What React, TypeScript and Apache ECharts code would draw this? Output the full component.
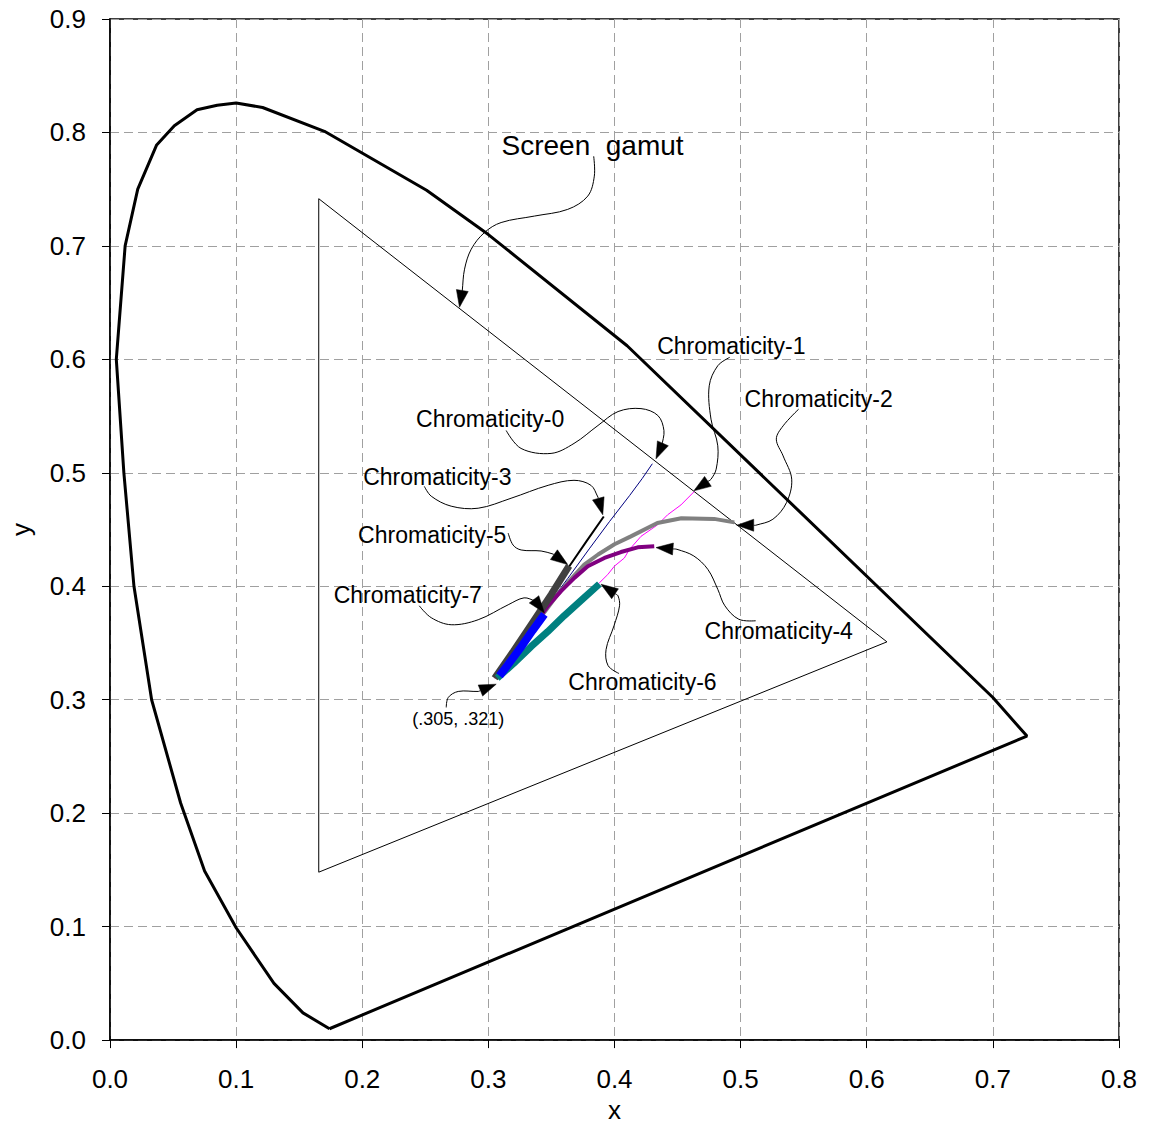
import React, { useEffect, useRef } from "react";
import * as echarts from "echarts";

// ---- Data ----
const xTicks = [0, 0.1, 0.2, 0.3, 0.4, 0.5, 0.6, 0.7, 0.8];
const yTicks = [0, 0.1, 0.2, 0.3, 0.4, 0.5, 0.6, 0.7, 0.8, 0.9];

const spectralLocus: [number, number][] = [
  [0.174, 0.010], [0.153, 0.024], [0.130, 0.050], [0.100, 0.099], [0.075, 0.149],
  [0.056, 0.209], [0.033, 0.300], [0.019, 0.400], [0.011, 0.500], [0.005, 0.600],
  [0.012, 0.700], [0.022, 0.750], [0.037, 0.789], [0.051, 0.806], [0.069, 0.820],
  [0.085, 0.824], [0.100, 0.826], [0.121, 0.822], [0.170, 0.801], [0.251, 0.749],
  [0.300, 0.710], [0.410, 0.612], [0.700, 0.302], [0.727, 0.268], [0.174, 0.010],
];

const screenGamut: [number, number][] = [
  [0.1655, 0.7416], [0.616, 0.351], [0.1655, 0.148], [0.1655, 0.7416],
];

const chroma0: [number, number][] = [
  [0.306, 0.322], [0.335, 0.365], [0.363, 0.407], [0.380, 0.433], [0.396, 0.457],
  [0.412, 0.480], [0.422, 0.495], [0.430, 0.508],
];
const chroma1: [number, number][] = [
  [0.305, 0.319], [0.347, 0.360], [0.388, 0.403], [0.3946, 0.4103], [0.3999, 0.4177],
  [0.4078, 0.4249], [0.4117, 0.4322], [0.421, 0.444], [0.4342, 0.4542], [0.4421, 0.463],
  [0.4527, 0.4717], [0.4632, 0.4835],
];
const chroma2: [number, number][] = [
  [0.306, 0.320], [0.320, 0.341], [0.334, 0.362], [0.345, 0.378], [0.355, 0.393],
  [0.366, 0.407], [0.376, 0.419], [0.387, 0.428], [0.400, 0.437], [0.413, 0.444],
  [0.434, 0.4557], [0.453, 0.460], [0.479, 0.4594], [0.495, 0.4563],
];
const chroma3: [number, number][] = [
  [0.306, 0.323], [0.335, 0.370], [0.3642, 0.4177], [0.378, 0.440], [0.3915, 0.4615],
];
const chroma4: [number, number][] = [
  [0.307, 0.320], [0.320, 0.339], [0.334, 0.362], [0.347, 0.3825], [0.3576, 0.3957],
  [0.3682, 0.4074], [0.3788, 0.4176], [0.392, 0.425], [0.4051, 0.4302], [0.4184, 0.4343],
  [0.4315, 0.4352],
];
const chroma5: [number, number][] = [
  [0.305, 0.319], [0.320, 0.343], [0.335, 0.368], [0.350, 0.393], [0.364, 0.418],
];
const chroma6: [number, number][] = [
  [0.307, 0.319], [0.320, 0.332], [0.334, 0.347], [0.347, 0.360], [0.360, 0.374],
  [0.374, 0.388], [0.388, 0.402],
];
const chroma7: [number, number][] = [
  [0.3088, 0.3211], [0.315, 0.330], [0.325, 0.345], [0.335, 0.361], [0.3444, 0.3752],
];

const seriesNames = [
  "Chromaticity-0", "Chromaticity-1", "Chromaticity-2", "Chromaticity-3",
  "Chromaticity-4", "Chromaticity-5", "Chromaticity-6", "Chromaticity-7",
];
const seriesData = [chroma0, chroma1, chroma2, chroma3, chroma4, chroma5, chroma6, chroma7];
const seriesColors = ["#000080", "#FF00FF", "#808080", "#000000", "#800080", "#404040", "#008080", "#0000FF"];
const seriesWidths = [1, 1, 4, 2, 4, 7, 7, 8];

// Annotations (data coordinates): label, label centre, leader curve, arrow tip
type Ann = { text: string; at: [number, number]; size: number; path: [number, number][]; tip: [number, number] };
const annotations: Ann[] = [
  {
    text: "Screen  gamut", at: [0.3826, 0.7884], size: 28,
    path: [[0.3835, 0.7790], [0.3840, 0.7615], [0.3788, 0.7439], [0.3629, 0.7322], [0.3365, 0.7263],
      [0.3101, 0.7206], [0.2969, 0.7118], [0.2864, 0.6971], [0.2811, 0.6795], [0.2793, 0.6605]],
    tip: [0.2771, 0.6459],
  },
  {
    text: "Chromaticity-0", at: [0.3014, 0.5470], size: 23,
    path: [[0.3141, 0.5373], [0.3259, 0.5215], [0.3497, 0.5171], [0.3679, 0.5259], [0.3869, 0.5417],
      [0.4028, 0.5540], [0.4210, 0.5566], [0.4344, 0.5505], [0.4392, 0.5373], [0.4376, 0.5241]],
    tip: [0.4329, 0.5123],
  },
  {
    text: "Chromaticity-1", at: [0.4926, 0.6119], size: 23,
    path: [[0.4914, 0.6018], [0.4819, 0.5944], [0.4751, 0.5767], [0.4765, 0.5473], [0.4819, 0.5238],
      [0.4806, 0.5032], [0.4765, 0.4943]],
    tip: [0.4629, 0.4841],
  },
  {
    text: "Chromaticity-2", at: [0.5619, 0.5650], size: 23,
    path: [[0.5460, 0.5561], [0.5337, 0.5414], [0.5283, 0.5297], [0.5337, 0.5149], [0.5405, 0.4944],
      [0.5364, 0.4738], [0.5256, 0.4591], [0.5120, 0.4538]],
    tip: [0.4969, 0.4538],
  },
  {
    text: "Chromaticity-3", at: [0.2595, 0.4961], size: 23,
    path: [[0.2492, 0.4881], [0.2547, 0.4794], [0.2705, 0.4706], [0.2919, 0.4688], [0.3180, 0.4776],
      [0.3474, 0.4890], [0.3679, 0.4934], [0.3813, 0.4890], [0.3869, 0.4785]],
    tip: [0.3907, 0.4630],
  },
  {
    text: "Chromaticity-4", at: [0.5302, 0.3608], size: 23,
    path: [[0.5120, 0.3696], [0.4986, 0.3709], [0.4875, 0.3828], [0.4819, 0.3973], [0.4740, 0.4149],
      [0.4629, 0.4267], [0.4495, 0.4326]],
    tip: [0.4329, 0.4341],
  },
  {
    text: "Chromaticity-5", at: [0.2555, 0.4451], size: 23,
    path: [[0.3157, 0.4469], [0.3196, 0.4363], [0.3260, 0.4320], [0.3418, 0.4311], [0.3513, 0.4284]],
    tip: [0.3629, 0.4191],
  },
  {
    text: "Chromaticity-6", at: [0.4222, 0.3156], size: 23,
    path: [[0.4036, 0.3231], [0.3949, 0.3301], [0.3933, 0.3442], [0.3996, 0.3652], [0.4040, 0.3828],
      [0.4028, 0.3916]],
    tip: [0.3893, 0.4018],
  },
  {
    text: "Chromaticity-7", at: [0.2361, 0.3925], size: 23,
    path: [[0.2452, 0.3828], [0.2547, 0.3723], [0.2705, 0.3661], [0.2919, 0.3705], [0.3157, 0.3837],
      [0.3283, 0.3898], [0.3371, 0.3872]],
    tip: [0.3444, 0.3766],
  },
  {
    text: "(.305, .321)", at: [0.2761, 0.2831], size: 18,
    path: [[0.2666, 0.2932], [0.2682, 0.3020], [0.2761, 0.3073], [0.2919, 0.3073]],
    tip: [0.3062, 0.3137],
  },
];

const FONT = "'Liberation Sans', Arial, Helvetica, sans-serif";

export default function App() {
  const ref = useRef<HTMLDivElement>(null);

  useEffect(() => {
    document.body.style.margin = "0";
    if (!ref.current) return;
    const chart = echarts.init(ref.current, null, { renderer: "svg" });

    const axisCommon = {
      type: "value" as const,
      interval: 0.1,
      nameLocation: "middle" as const,
      nameTextStyle: { fontSize: 26, color: "#000", fontFamily: FONT },
      axisLine: { show: true, onZero: false, lineStyle: { color: "#000", width: 1.5 } },
      axisTick: { show: true, inside: false, length: 8, lineStyle: { color: "#000", width: 1 } },
      splitLine: { show: true, lineStyle: { color: "#a0a0a0", width: 1, type: [9, 5] as any } },
    };

    const series: any[] = [
      {
        name: "Spectral locus", type: "line", data: spectralLocus, showSymbol: false, symbol: "none",
        lineStyle: { color: "#000", width: 3 }, z: 3, silent: true,
      },
      {
        name: "Screen gamut", type: "line", data: screenGamut, showSymbol: false, symbol: "none",
        lineStyle: { color: "#000", width: 1 }, z: 3, silent: true,
      },
    ];
    seriesData.forEach((d, i) => {
      series.push({
        name: seriesNames[i], type: "line", data: d, showSymbol: false, symbol: "none",
        lineStyle: { color: seriesColors[i], width: seriesWidths[i] }, z: 4 + i, silent: true,
      });
    });

    chart.setOption({
      animation: false,
      backgroundColor: "#fff",
      textStyle: { fontFamily: FONT },
      grid: { left: 108, right: 30, top: 19, bottom: 84, show: true, borderColor: "#000", borderWidth: 1.5, containLabel: false },
      xAxis: {
        ...axisCommon, min: 0, max: 0.8, name: "x", nameGap: 54,
        axisLabel: { fontSize: 26, color: "#000", fontFamily: FONT, margin: 26, formatter: (v: number) => v.toFixed(1) },
        data: xTicks,
      },
      yAxis: {
        ...axisCommon, min: 0, max: 0.9, name: "y", nameGap: 76, nameRotate: 90,
        axisLabel: { fontSize: 26, color: "#000", fontFamily: FONT, margin: 24, formatter: (v: number) => v.toFixed(1) },
        data: yTicks,
      },
      series,
    });

    const toPx = (p: [number, number]) => chart.convertToPixel({ gridIndex: 0 }, p) as number[];
    const graphics: any[] = [];
    annotations.forEach((a) => {
      const pts = a.path.map(toPx);
      const tip = toPx(a.tip);
      const base = pts[pts.length - 1];
      const dx = tip[0] - base[0];
      const dy = tip[1] - base[1];
      const len = Math.hypot(dx, dy) || 1;
      const ux = dx / len;
      const uy = dy / len;
      const L = 17;
      const W = 6;
      const bx = tip[0] - ux * L;
      const by = tip[1] - uy * L;
      graphics.push({
        type: "polyline",
        z: 100,
        shape: { points: [...pts, [bx, by]], smooth: 0.35 },
        style: { stroke: "#000", lineWidth: 1, fill: null },
        silent: true,
      });
      graphics.push({
        type: "polygon",
        z: 101,
        shape: { points: [tip, [bx - uy * W, by + ux * W], [bx + uy * W, by - ux * W]] },
        style: { fill: "#000", stroke: "#000", lineWidth: 0.5 },
        silent: true,
      });
      const c = toPx(a.at);
      graphics.push({
        type: "text",
        z: 102,
        x: c[0],
        y: c[1],
        style: {
          text: a.text,
          fontSize: a.size,
          fontFamily: FONT,
          fill: "#000",
          align: "center",
          verticalAlign: "middle",
        },
        silent: true,
      });
    });
    chart.setOption({ graphic: graphics });

    return () => chart.dispose();
  }, []);

  return <div ref={ref} style={{ width: 1149, height: 1128 }} />;
}
